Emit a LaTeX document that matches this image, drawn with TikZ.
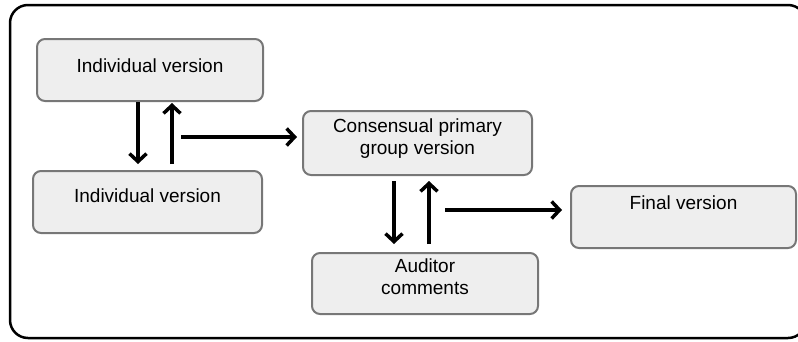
\documentclass[tikz,border=0pt]{standalone}
\usepackage{fontspec}
\setmainfont{Liberation Sans}
\usetikzlibrary{arrows.meta}
\definecolor{boxfill}{HTML}{EEEEEE}
\definecolor{boxline}{HTML}{777777}
\tikzset{
	stagebox/.style={draw=boxline, fill=boxfill, line width=2pt, rounded corners=8pt,
		anchor=north, inner sep=0pt, align=center,
		font=\fontsize{19}{22}\selectfont},
	flow/.style={line width=3.5pt, -{Straight Barb[length=8pt,width=17pt]}}
}
\begin{document}
\begin{tikzpicture}[x=1pt,y=-1pt]
		\useasboundingbox (0,0) rectangle (798,341);
		\clip (0,0) rectangle (798,341);
		\draw [line width=2.5pt, rounded corners=18pt] (10,5) rectangle (806,338);
		\node [stagebox, minimum width=226pt, text height=33.8pt, text depth=28.2pt] (indivA) at (150,38) {Individual version};
		\node [stagebox, minimum width=229pt, text height=31.8pt, text depth=30.2pt] (indivB) at (147.5,170) {Individual version};
		\node [stagebox, minimum width=229pt, text height=43.8pt, text depth=20.2pt] (consensus) at (417.5,110) {Consensual primary\\group version};
		\node [stagebox, minimum width=226pt, text height=41.8pt, text depth=19.2pt] (auditor) at (425,252) {Auditor\\comments};
		\node [stagebox, minimum width=225pt, text height=23.8pt, text depth=38.2pt] (final) at (683.5,185) {Final version};
		\coordinate (outA) at (181,137);
		\coordinate (outB) at (445,210);
		\draw [flow, shorten >=6pt] ([xshift=-12pt]indivA.south) -- ([xshift=-12pt]indivA.south |- indivB.north);
		\draw [flow, shorten <=6pt, shorten >=1pt] ([xshift=22pt]indivA.south |- indivB.north) -- ([xshift=22pt]indivA.south);
		\draw [flow, shorten >=5pt] (outA) -- (outA -| consensus.west);
		\draw [flow, shorten <=5pt, shorten >=8pt] ([xshift=-23.5pt]consensus.south) -- ([xshift=-23.5pt]consensus.south |- auditor.north);
		\draw [flow, shorten <=8pt, shorten >=5pt] ([xshift=11.5pt]consensus.south |- auditor.north) -- ([xshift=11.5pt]consensus.south);
		\draw [flow, shorten >=8pt] (outB) -- (outB -| final.west);
	\end{tikzpicture}
\end{document}
